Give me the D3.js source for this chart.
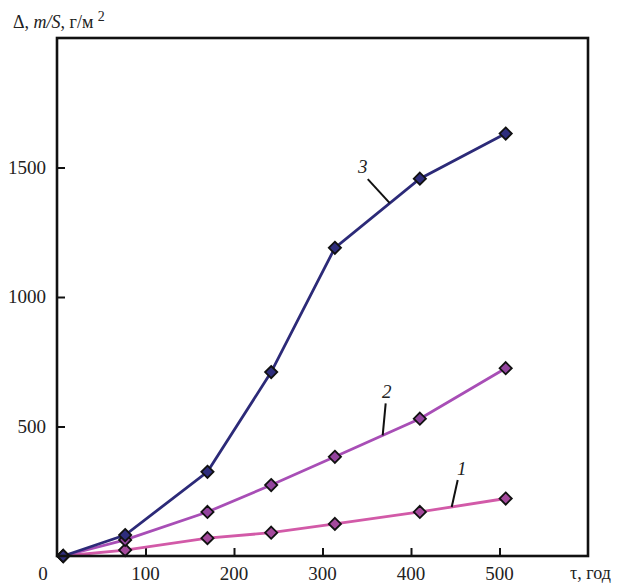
<!DOCTYPE html>
<html>
<head>
<meta charset="utf-8">
<script src="https://cdn.jsdelivr.net/npm/d3@7"></script>
<style>
  body { margin: 0; background: #fff; }
  svg text { font-family: "Liberation Serif", "Times New Roman", "DejaVu Serif", serif; }
</style>
</head>
<body>
<svg id="chart" width="617" height="586"></svg>
<script>
// Data
var tau = [7, 77, 170, 242, 314, 410, 507];
var curve1 = [0, 23, 69, 90, 124, 170, 222];
var curve2 = [0, 62, 170, 274, 383, 530, 725];
var curve3 = [0, 81, 325, 710, 1190, 1457, 1631];
var xTicks = [100, 200, 300, 400, 500];
var yTicks = [500, 1000, 1500];
var curveNames = ["1", "2", "3"];
// where each number label's leader touches its curve (tau)
var labelAt = [446, 368, 376];

var series = [
  {name: curveNames[0], values: curve1, line: "#d25aa8", fill: "#a4499c", at: labelAt[0]},
  {name: curveNames[1], values: curve2, line: "#a84eb6", fill: "#93449e", at: labelAt[1]},
  {name: curveNames[2], values: curve3, line: "#2c2a78", fill: "#2e2d7c", at: labelAt[2]}
];

var svg = d3.select("#chart");
var m = {left: 57, top: 38, right: 588, bottom: 556};

var x = d3.scaleLinear().domain([0, 600]).range([m.left, m.right]);
var y = d3.scaleLinear().domain([0, 2000]).range([m.bottom, m.top]);

// ticks pointing inside the frame
var xAxis = d3.axisTop(x).tickValues(xTicks).tickSize(8).tickFormat("");
svg.append("g").attr("transform", "translate(0," + m.bottom + ")").call(xAxis)
  .call(function(g) { g.select(".domain").remove(); g.selectAll("line").attr("stroke", "#111").attr("stroke-width", 2); });
var yAxis = d3.axisRight(y).tickValues(yTicks).tickSize(8).tickFormat("");
svg.append("g").attr("transform", "translate(" + m.left + ",0)").call(yAxis)
  .call(function(g) { g.select(".domain").remove(); g.selectAll("line").attr("stroke", "#111").attr("stroke-width", 2); });

// tick labels
svg.selectAll(".xl").data(xTicks).enter().append("text")
  .attr("x", function(d) { return x(d); }).attr("y", 580)
  .attr("text-anchor", "middle").attr("font-size", 19).attr("fill", "#222").text(function(d) { return d; });
svg.append("text").attr("x", x(0) - 14).attr("y", 580)
  .attr("text-anchor", "middle").attr("font-size", 19).attr("fill", "#222").text("0");
svg.selectAll(".yl").data(yTicks).enter().append("text")
  .attr("x", 46).attr("y", function(d) { return y(d) + 6; })
  .attr("text-anchor", "end").attr("font-size", 19).attr("fill", "#222").text(function(d) { return d; });

// axis titles
var yt = svg.append("text").attr("x", 13).attr("y", 28).attr("font-size", 18).attr("fill", "#222");
yt.append("tspan").text("Δ, ");
yt.append("tspan").attr("font-style", "italic").text("m/S");
yt.append("tspan").text(", г/м ");
yt.append("tspan").attr("dy", -7).attr("font-size", 14).text("2");
svg.append("text").attr("x", 570).attr("y", 579).attr("font-size", 18).attr("fill", "#222").text("τ, год");

// curves
var line = d3.line().x(function(d, i) { return x(tau[i]); }).y(function(d) { return y(d); });
series.forEach(function(s) {
  svg.append("path").datum(s.values).attr("d", line)
    .attr("fill", "none").attr("stroke", s.line).attr("stroke-width", 2.8);
});

var diamond = d3.symbol().type(d3.symbolDiamond2).size(95);
series.forEach(function(s) {
  svg.selectAll(null).data(s.values).enter().append("path")
    .attr("d", diamond)
    .attr("transform", function(d, i) { return "translate(" + x(tau[i]) + "," + y(d) + ")"; })
    .attr("fill", s.fill).attr("stroke", "#111").attr("stroke-width", 1.8);
});

// number labels with leader lines
function valueAt(vals, t) {
  var i = d3.bisectRight(tau, t) - 1;
  var k = (t - tau[i]) / (tau[i + 1] - tau[i]);
  return vals[i] + k * (vals[i + 1] - vals[i]);
}
var leader = [
  {dx1: 6, dy1: -27, tx: 10, ty: -32},   // 1
  {dx1: 3, dy1: -32, tx: 4, ty: -37},    // 2
  {dx1: -22, dy1: -24, tx: -27, ty: -30}  // 3
];
series.forEach(function(s, i) {
  var px = x(s.at), py = y(valueAt(s.values, s.at));
  var l = leader[i];
  svg.append("line").attr("x1", px).attr("y1", py).attr("x2", px + l.dx1).attr("y2", py + l.dy1)
    .attr("stroke", "#111").attr("stroke-width", 2);
  svg.append("text").attr("x", px + l.tx).attr("y", py + l.ty)
    .attr("text-anchor", "middle").attr("font-size", 19).attr("font-style", "italic").attr("fill", "#222").text(s.name);
});

// frame
svg.append("rect").attr("x", m.left).attr("y", m.top)
  .attr("width", m.right - m.left).attr("height", m.bottom - m.top)
  .attr("fill", "none").attr("stroke", "#111").attr("stroke-width", 2.6);
</script>
</body>
</html>
